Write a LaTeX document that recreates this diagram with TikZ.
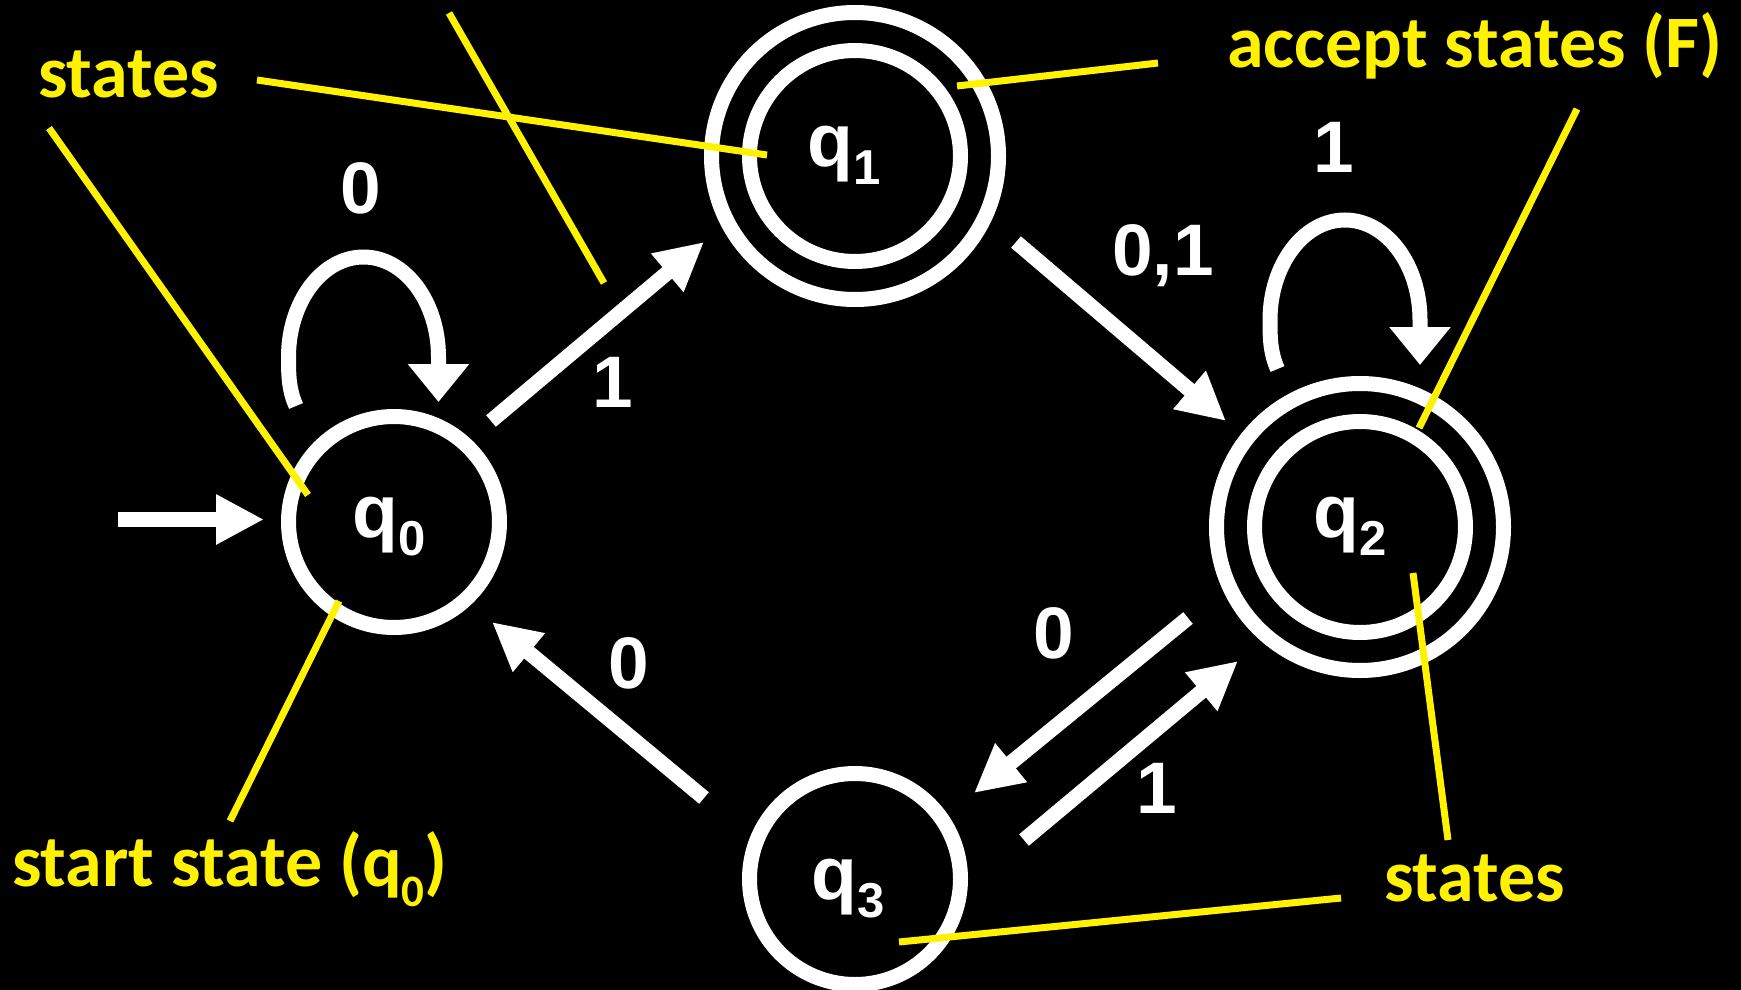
\documentclass[tikz,border=0pt]{standalone}
\usepackage{fontspec}
\usetikzlibrary{arrows.meta}
\newfontfamily\wfont{Liberation Sans}
\newfontfamily\yfont{Carlito}
\newcommand\stlab[3]{\raisebox{-#2pt}[40pt][19pt]{q\raisebox{-18pt}{\fontsize{49}{49}\selectfont #1}}\kern#3pt}
\begin{document}
\begin{tikzpicture}[x=1pt,y=-1pt,
  st/.style={circle, draw=white, line width=15pt, minimum size=211pt, inner sep=0pt, outer sep=0pt, text=white, font=\wfont\bfseries\fontsize{75}{75}\selectfont},
  ring/.style={circle, draw=white, line width=15pt, minimum size=287pt, inner sep=0pt, outer sep=0pt},
  tr/.style={draw=white, line width=15pt, -{Triangle[length=48pt,width=47pt]}},
  loopar/.style={draw=white, line width=15pt, -{Triangle[length=38pt,width=59pt]}},
  lbl/.style={text=white, font=\wfont\bfseries\fontsize{73}{73}\selectfont, inner sep=0pt, anchor=base},
  yl/.style={text=yellow, font=\yfont\bfseries\fontsize{74}{74}\selectfont, inner sep=0pt, anchor=base west},
  ann/.style={draw=yellow, line width=7pt},
]
\useasboundingbox (0,0) rectangle (1741,990);
\fill[black] (0,0) rectangle (1741,990);

% states
\node[st] (q0) at (394,522) {\stlab{0}{5}{10}};
\node[st] (q1) at (855,156) {\stlab{1}{0}{21}};
\node[ring] (q1o) at (855,156) {};
\node[st] (q2) at (1360,527) {\stlab{2}{0}{20}};
\node[ring] (q2o) at (1360,527) {};
\node[st] (q3) at (855,879) {\stlab{3}{10}{14}};

% initial arrow
\coordinate (init) at (118,519.5);
\draw[tr] (init) -- ([shift={(-130,-2.5)}]q0.center);

% transitions
\draw[tr] ([shift={(97,-101)}]q0.center) -- ([shift={(-151,86)}]q1.center);
\draw[tr] ([shift={(161,86)}]q1.center) -- ([shift={(-134,-106)}]q2.center);
\draw[tr] ([shift={(-172,91)}]q2.center) -- ([shift={(119,-86)}]q3.center);
\draw[tr] ([shift={(169,-39)}]q3.center) -- ([shift={(-122,134)}]q2.center);
\draw[tr] ([shift={(-151,-81)}]q3.center) -- ([shift={(98,100)}]q0.center);

% self loops
\draw[loopar] ([shift={(-98,-116)}]q0.center) .. controls +(-7,-16) and +(0,20) .. ++(-7.5,-49)
   arc[start angle=180, end angle=360, x radius=75, y radius=100] -- ++(0,45);
\draw[loopar] ([shift={(-82.5,-158)}]q2.center) .. controls +(-7,-16) and +(0,20) .. ++(-7.5,-49)
   arc[start angle=180, end angle=360, x radius=75, y radius=100] -- ++(0,45);

% edge labels
\node[lbl] (e00) at (361,213) {0};
\node[lbl] (e01) at (613,407) {1};
\node[lbl, anchor=base west] (e12) at (1112,275) {0,1};
\node[lbl] (e22) at (1334,172) {1};
\node[lbl] (e23) at (1054,658) {0};
\node[lbl] (e32) at (1157,813) {1};
\node[lbl] (e30) at (629,688) {0};

% yellow annotations
\node[yl] (s1) at (38,97) {states};
\node[yl] (acc) at (1227,68) {accept states (F)};
\node[yl] (start) at (12,886) {start state (q\raisebox{-20pt}{\fontsize{45}{45}\selectfont 0})};
\node[yl] (s2) at (1384,901) {states};

\coordinate (a1) at (257,80);   \coordinate (a2) at (767,155);
\coordinate (b1) at (449,13);   \coordinate (b2) at (604,283);
\coordinate (c1) at (49,128);   \coordinate (c2) at (308,495);
\coordinate (d1) at (339,601);  \coordinate (d2) at (230,821);
\coordinate (f1) at (957,86);   \coordinate (f2) at (1158,63);
\coordinate (g1) at (1577,109); \coordinate (g2) at (1419,428);
\coordinate (h1) at (1413,573); \coordinate (h2) at (1448,840);
\coordinate (k1) at (899,942);  \coordinate (k2) at (1341,898);
\draw[ann] (a1) -- (a2);
\draw[ann] (b1) -- (b2);
\draw[ann] (c1) -- (c2);
\draw[ann] (d1) -- (d2);
\draw[ann] (f1) -- (f2);
\draw[ann] (g1) -- (g2);
\draw[ann] (h1) -- (h2);
\draw[ann] (k1) -- (k2);
\end{tikzpicture}
\end{document}
